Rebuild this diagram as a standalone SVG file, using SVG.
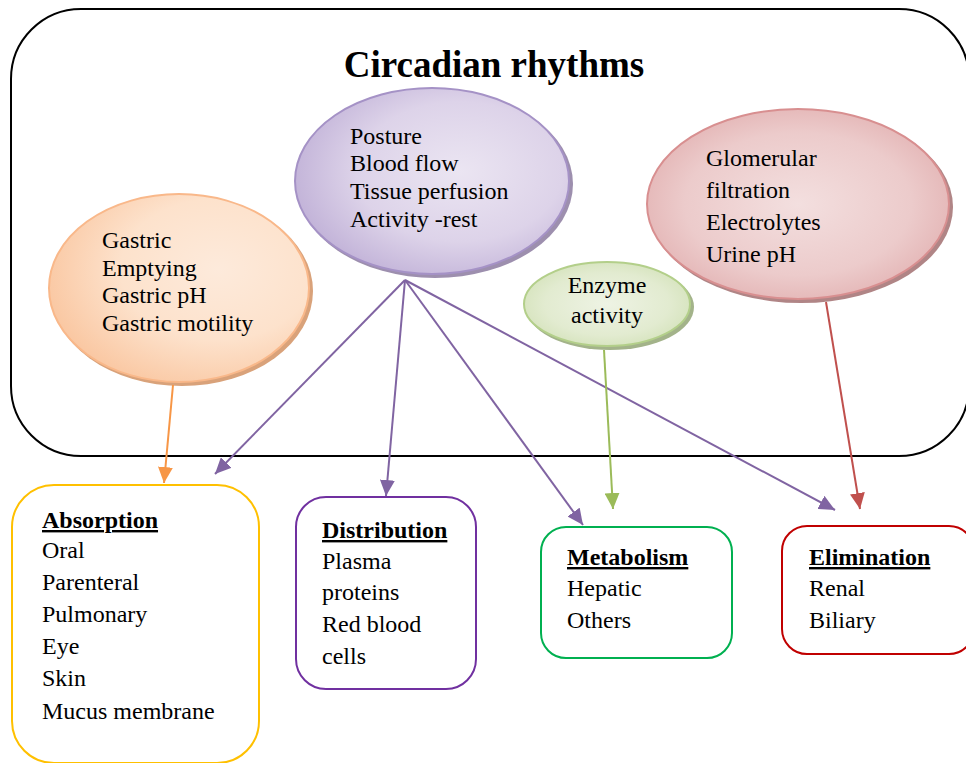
<svg xmlns="http://www.w3.org/2000/svg" width="966" height="763" viewBox="0 0 966 763">
<defs>
<style>
text{font-family:"Liberation Serif","Times New Roman",serif;fill:#000;}
.t{font-size:24px;}
.h{font-size:24px;font-weight:bold;text-decoration:underline;}
.title{font-size:37px;font-weight:bold;}
.c{fill:none;stroke-width:2;}
.box{fill:#fff;stroke-width:2;}
</style>
<radialGradient id="gO" cx="0.65" cy="0.4" r="0.75"><stop offset="0" stop-color="#fdeadb"/><stop offset="0.5" stop-color="#fde2cc"/><stop offset="1" stop-color="#f9c198"/></radialGradient>
<radialGradient id="gP" cx="0.6" cy="0.45" r="0.75"><stop offset="0" stop-color="#ebe5f2"/><stop offset="0.5" stop-color="#ddd3e9"/><stop offset="1" stop-color="#b3a1cf"/></radialGradient>
<radialGradient id="gR" cx="0.5" cy="0.5" r="0.75"><stop offset="0" stop-color="#f3dfdf"/><stop offset="0.5" stop-color="#eccbcb"/><stop offset="1" stop-color="#d99899"/></radialGradient>
<radialGradient id="gG" cx="0.5" cy="0.5" r="0.75"><stop offset="0" stop-color="#eef3e4"/><stop offset="0.5" stop-color="#e2ebd0"/><stop offset="1" stop-color="#c5d9a3"/></radialGradient>
<marker id="aP" markerUnits="userSpaceOnUse" markerWidth="17" markerHeight="15" refX="16" refY="7.5" orient="auto"><path d="M0,0 L16,7.5 L0,15 z" fill="#8064a2"/></marker>
<marker id="aO" markerUnits="userSpaceOnUse" markerWidth="17" markerHeight="15" refX="16" refY="7.5" orient="auto"><path d="M0,0 L16,7.5 L0,15 z" fill="#f79646"/></marker>
<marker id="aG" markerUnits="userSpaceOnUse" markerWidth="17" markerHeight="15" refX="16" refY="7.5" orient="auto"><path d="M0,0 L16,7.5 L0,15 z" fill="#9bbb59"/></marker>
<marker id="aR" markerUnits="userSpaceOnUse" markerWidth="17" markerHeight="15" refX="16" refY="7.5" orient="auto"><path d="M0,0 L16,7.5 L0,15 z" fill="#c0504d"/></marker>
</defs>
<rect width="966" height="763" fill="#fff"/>
<g id="frame">
<rect x="11" y="9" width="958" height="447" rx="70" ry="70" fill="none" stroke="#000" stroke-width="2"/>
<text class="title" x="494" y="77" text-anchor="middle">Circadian rhythms</text>
</g>
<g id="gastric">
<ellipse cx="182" cy="291" rx="131" ry="95" fill="#d9a27a"/>
<ellipse cx="179" cy="288" rx="130" ry="94" fill="url(#gO)" stroke="#f9b88a" stroke-width="2"/>
<text class="t" x="102" y="248">Gastric</text>
<text class="t" x="102" y="276">Emptying</text>
<text class="t" x="102" y="303">Gastric pH</text>
<text class="t" x="102" y="331">Gastric motility</text>
</g>
<g id="posture">
<ellipse cx="435" cy="184" rx="138" ry="94" fill="#9d8fae"/>
<ellipse cx="432" cy="181" rx="137" ry="93" fill="url(#gP)" stroke="#a592c6" stroke-width="2"/>
<text class="t" x="350" y="144">Posture</text>
<text class="t" x="350" y="171">Blood flow</text>
<text class="t" x="350" y="199">Tissue perfusion</text>
<text class="t" x="350" y="227">Activity -rest</text>
</g>
<g id="renal">
<ellipse cx="801" cy="207" rx="152" ry="96" fill="#b08586"/>
<ellipse cx="798" cy="204" rx="151" ry="95" fill="url(#gR)" stroke="#d88f90" stroke-width="2"/>
<text class="t" x="706" y="166">Glomerular</text>
<text class="t" x="706" y="198">filtration</text>
<text class="t" x="706" y="230">Electrolytes</text>
<text class="t" x="706" y="262">Urine pH</text>
</g>
<g id="enzyme">
<ellipse cx="610" cy="307" rx="84" ry="43" fill="#a3b38a"/>
<ellipse cx="607" cy="304" rx="83" ry="42" fill="url(#gG)" stroke="#b3cf8a" stroke-width="2"/>
<text class="t" x="607" y="293" text-anchor="middle">Enzyme</text>
<text class="t" x="607" y="323" text-anchor="middle">activity</text>
</g>
<g id="connectors">
<path class="c" d="M173,385 L164,483" stroke="#f79646" marker-end="url(#aO)"/>
<path class="c" d="M405,280 L215,474" stroke="#8064a2" marker-end="url(#aP)"/>
<path class="c" d="M405,280 L386,496" stroke="#8064a2" marker-end="url(#aP)"/>
<path class="c" d="M405,280 L583,525" stroke="#8064a2" marker-end="url(#aP)"/>
<path class="c" d="M405,280 L835,510" stroke="#8064a2" marker-end="url(#aP)"/>
<path class="c" d="M604,350 L613,509" stroke="#9bbb59" marker-end="url(#aG)"/>
<path class="c" d="M826,302 L860,509" stroke="#c0504d" marker-end="url(#aR)"/>
</g>
<g id="absorption">
<rect class="box" x="12" y="485" width="247" height="278" rx="42" ry="42" stroke="#ffc000"/>
<text class="h" x="42" y="528">Absorption</text>
<text class="t" x="42" y="558">Oral</text>
<text class="t" x="42" y="590">Parenteral</text>
<text class="t" x="42" y="622">Pulmonary</text>
<text class="t" x="42" y="654">Eye</text>
<text class="t" x="42" y="686">Skin</text>
<text class="t" x="42" y="719">Mucus membrane</text>
</g>
<g id="distribution">
<rect class="box" x="296" y="497" width="180" height="192" rx="30" ry="30" stroke="#7030a0"/>
<text class="h" x="322" y="538">Distribution</text>
<text class="t" x="322" y="569">Plasma</text>
<text class="t" x="322" y="600">proteins</text>
<text class="t" x="322" y="632">Red blood</text>
<text class="t" x="322" y="664">cells</text>
</g>
<g id="metabolism">
<rect class="box" x="541" y="527" width="191" height="131" rx="25" ry="25" stroke="#00b050"/>
<text class="h" x="567" y="565">Metabolism</text>
<text class="t" x="567" y="596">Hepatic</text>
<text class="t" x="567" y="628">Others</text>
</g>
<g id="elimination">
<rect class="box" x="782" y="526" width="192" height="128" rx="25" ry="25" stroke="#c00000"/>
<text class="h" x="809" y="565">Elimination</text>
<text class="t" x="809" y="596">Renal</text>
<text class="t" x="809" y="628">Biliary</text>
</g>
</svg>
